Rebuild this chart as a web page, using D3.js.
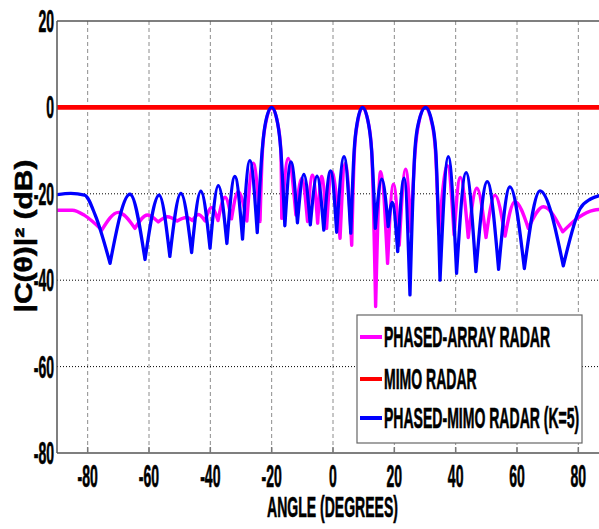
<!DOCTYPE html>
<html>
<head>
<meta charset="utf-8">
<script src="https://cdn.jsdelivr.net/npm/d3@7"></script>
<style>
  html, body { margin: 0; padding: 0; background: #fff; overflow: hidden; }
  text { font-family: "Liberation Sans", Arial, sans-serif; font-weight: bold; fill: #000; stroke: #000; stroke-width: 0.5px; }
</style>
</head>
<body>
<svg id="chart" width="599" height="529"></svg>
<script>
// values (angle in degrees, level in dB)
const arrayAngles = [-90, -85, -81, -75.4, -70.0, -64.6, -60.5, -57.0, -54.0, -50.8, -47.8, -45.8,
    -43.9, -41.7, -39.6, -37.5, -35.2, -33.1, -30.9, -28.1, -26.0, -23.8, -23.0, -21.9, -20.0, -18.1,
    -17.0, -16.7, -14.6, -12.1, -10.2, -8.3, -6.7, -5.0, -3.7, -2.1, -0.4, 2.3, 4.0, 6.1, 7.0, 8.0,
    9.6, 11.5, 12.6, 13.9, 15.5, 17.8, 19.7, 21.6, 23.7, 25.4, 26.8, 28.0, 30.0, 32.2, 33.4, 34.5,
    37.3, 39.5, 41.5, 44.1, 46.9, 49.9, 52.8, 56.1, 59.3, 63.7, 68.6, 74.9, 80.0, 85.0, 90.0];
const arrayDb = [-23.8, -23.8, -25.0, -28.4, -24.3, -28.0, -24.9, -26.5, -25.3, -26.3, -25.5, -26.2,
    -24.8, -26.3, -23.2, -26.2, -20.8, -25.8, -19.5, -26.3, -12.9, -26.4, -10, -3.5, 0, -3.5,
    -10, -25.7, -11.8, -24.9, -16.4, -26.4, -15.7, -26.8, -16.0, -28.0, -14.9, -30.3, -13.0, -31.9, -10, -3.5,
    0, -3.5, -10, -46.1, -14.9, -36.1, -17.8, -31.9, -14.3, -28.8, -10, -3.5, 0, -3.5, -10, -29.3,
    -13.5, -29.5, -16.2, -30.1, -18.7, -30.1, -20.3, -29.8, -21.8, -28.0, -23.0, -28.8, -25.5, -23.8, -23.5];

const mimoAngles = [-90, 90];
const mimoDb = [0, 0];

const hybridAngles = [-90, -85.5, -81, -77.5, -72.7, -66.2, -61.3, -56.7, -53.2, -49.6, -46.1, -43.1,
    -40.1, -37.4, -34.6, -32.0, -29.5, -27.1, -24.7, -23.1, -22.0, -20.0, -18.1, -17.0, -15.7, -13.7,
    -11.6, -9.5, -7.4, -5.2, -3.0, -0.8, 1.2, 3.6, 5.8, 6.9, 7.9, 9.6, 11.5, 12.6, 13.8, 15.9, 18.0,
    19.3, 21.1, 23.2, 25.1, 26.7, 27.9, 30.2, 32.3, 33.5, 34.9, 37.6, 40.3, 43.4, 46.6, 50.3, 54.0,
    57.7, 62.4, 67.5, 75.1, 80.5, 84.0, 87.0, 90.0];
const hybridDb = [-20.2, -19.9, -20.3, -25.0, -36.1, -20.1, -35.2, -20.3, -34.5, -19.9, -33.6, -19.4,
    -32.6, -18.1, -31.5, -16.0, -30.5, -12.3, -29.0, -10, -3.5, 0, -3.5, -10, -27.4, -12.6,
    -26.7, -15.5, -27.2, -15.9, -28.4, -14.7, -28.9, -11.4, -29.1, -10, -3.5, 0, -3.5, -10, -28.0, -16.6, -27.6,
    -22.0, -33.4, -16.4, -43.4, -10, -3.5, 0, -3.5, -10, -40.0, -11.4, -38.4, -15.1, -38.0, -17.2, -37.5,
    -18.4, -37.3, -19.3, -36.7, -23.5, -21.2, -20.4, -20.1];

const xTicks = [-80, -60, -40, -20, 0, 20, 40, 60, 80];
const yTicks = [20, 0, -20, -40, -60, -80];

const series = [
    { label: 'PHASED-ARRAY RADAR', angles: arrayAngles, db: arrayDb, color: '#ff00ff', width: 3.4 },
    { label: 'MIMO RADAR', angles: mimoAngles, db: mimoDb, color: '#ff0000', width: 4.6 },
    { label: 'PHASED-MIMO RADAR (K=5)', angles: hybridAngles, db: hybridDb, color: '#0000ff', width: 3.3 }
];

const margin = { left: 57, top: 21 };
const plotW = 552, plotH = 432;

let svg = d3.select('#chart');

let x = d3.scaleLinear().domain([-90, 90]).range([margin.left, margin.left + plotW]);
let y = d3.scaleLinear().domain([-80, 20]).range([margin.top + plotH, margin.top]);

svg.append('clipPath').attr('id', 'plot-clip')
    .append('rect')
    .attr('x', margin.left).attr('y', margin.top)
    .attr('width', plotW).attr('height', plotH);

// grid: grey dashes for angles, black dots for levels
let grid = svg.append('g').classed('grid', true);

grid.selectAll('.vgrid')
    .data(xTicks)
    .enter()
    .append('line')
    .attr('x1', d => x(d)).attr('x2', d => x(d))
    .attr('y1', y(20)).attr('y2', y(-80))
    .attr('stroke', '#8c8c8c')
    .attr('stroke-width', 1)
    .attr('stroke-dasharray', '4,3');

grid.selectAll('.hgrid')
    .data(yTicks.filter(d => d > -80 && d < 20))
    .enter()
    .append('line')
    .attr('x1', x(-90)).attr('x2', x(90))
    .attr('y1', d => y(d)).attr('y2', d => y(d))
    .attr('stroke', '#000')
    .attr('stroke-width', 1)
    .attr('stroke-dasharray', '1,2');

// split a trace at its nulls, so every lobe is its own monotone arch with a sharp null
let lobes = function (xs, ys) {
    const pts = xs.map((a, i) => [a, ys[i]]);
    let segs = [];
    let cur = [pts[0]];
    for (let i = 1; i < pts.length; i++) {
        cur.push(pts[i]);
        const isNull = i < pts.length - 1 && pts[i][1] < pts[i - 1][1] && pts[i][1] < pts[i + 1][1];
        if (isNull) {
            segs.push(cur);
            cur = [pts[i]];
        }
    }
    segs.push(cur);
    return segs;
};

let line = d3.line()
    .x(d => x(d[0]))
    .y(d => y(d[1]))
    .curve(d3.curveMonotoneX);

let tracePath = function (s) {
    return lobes(s.angles, s.db)
        .map((seg, i) => i ? line(seg).replace(/^M/, 'L') : line(seg))
        .join('');
};

let traces = svg.append('g')
    .attr('clip-path', 'url(#plot-clip)');

traces.selectAll('.trace')
    .data(series)
    .enter()
    .append('path')
    .attr('d', d => tracePath(d))
    .attr('fill', 'none')
    .attr('stroke', d => d.color)
    .attr('stroke-width', d => d.width)
    .attr('stroke-linejoin', 'round')
    .attr('stroke-linecap', 'round');

// axes box (right edge falls outside the picture)
let box = svg.append('g');
box.append('line')
    .attr('x1', x(-90)).attr('x2', x(90)).attr('y1', y(20)).attr('y2', y(20))
    .attr('stroke', '#555').attr('stroke-width', 1.5);
box.append('line')
    .attr('x1', x(-90)).attr('x2', x(90)).attr('y1', y(-80)).attr('y2', y(-80))
    .attr('stroke', '#555').attr('stroke-width', 1.5);
box.append('line')
    .attr('x1', x(-90)).attr('x2', x(-90)).attr('y1', y(20)).attr('y2', y(-80))
    .attr('stroke', '#555').attr('stroke-width', 1.5);

box.selectAll('.xtick')
    .data(xTicks)
    .enter()
    .append('line')
    .attr('x1', d => x(d)).attr('x2', d => x(d))
    .attr('y1', y(-80)).attr('y2', y(-80) - 6)
    .attr('stroke', '#777').attr('stroke-width', 1.5);

// condensed bold labels, like the MATLAB export
const sx = 0.585, sy = 1.28;

svg.append('g').selectAll('text')
    .data(xTicks)
    .enter()
    .append('text')
    .attr('transform', d => `translate(${x(d)},487) scale(${sx},${sy})`)
    .attr('text-anchor', 'middle')
    .attr('font-size', 24)
    .text(d => d);

svg.append('g').selectAll('text')
    .data(yTicks)
    .enter()
    .append('text')
    .attr('transform', d => `translate(54,${y(d) + 11}) scale(${sx},${sy})`)
    .attr('text-anchor', 'end')
    .attr('font-size', 24)
    .text(d => d);

svg.append('text')
    .attr('transform', `translate(332.5,517) scale(${sx},1.22)`)
    .attr('text-anchor', 'middle')
    .attr('font-size', 24)
    .text('ANGLE (DEGREES)');

svg.append('text')
    .attr('transform', 'translate(32,236) rotate(-90) scale(1.25,1)')
    .attr('text-anchor', 'middle')
    .attr('font-size', 24)
    .text('|C(θ)|² (dB)');

// legend
let legend = svg.append('g');
legend.append('rect')
    .attr('x', 357).attr('y', 315)
    .attr('width', 225).attr('height', 128)
    .attr('fill', '#fff')
    .attr('stroke', '#666')
    .attr('stroke-width', 1.2);

const legendRows = [337, 379, 418];

let rows = legend.selectAll('.row')
    .data(series)
    .enter()
    .append('g')
    .attr('transform', (d, i) => `translate(0,${legendRows[i]})`);

rows.append('line')
    .attr('x1', 360).attr('x2', 382)
    .attr('stroke', d => d.color)
    .attr('stroke-width', 4);

rows.append('text')
    .attr('transform', `translate(384,10) scale(${sx},1.2)`)
    .attr('font-size', 24)
    .text(d => d.label);
</script>
</body>
</html>
